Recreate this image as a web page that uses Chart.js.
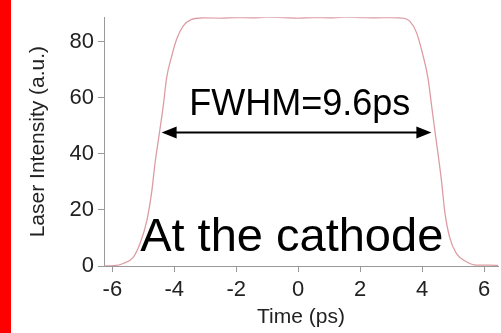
<!DOCTYPE html>
<html lang="en">
<head>
    <meta charset="UTF-8">
    <title>Laser Intensity - At the cathode</title>
    <script src="https://cdn.jsdelivr.net/npm/chart.js"></script>
    <style>
        html, body { margin: 0; padding: 0; background: #fff; }
        .wrap { position: relative; width: 501px; height: 333px; overflow: hidden; }
        .red-bar { position: absolute; left: 0; top: 0; width: 11px; height: 333px; background: #ff0000; z-index: 2; }
        canvas { position: absolute; left: 0; top: 0; }
    </style>
</head>
<body>
<div class="wrap">
    <div class="red-bar"></div>
    <canvas id="pulseChart" width="501" height="333"></canvas>
</div>

<script>
    // pulse profile (time in ps, intensity in a.u.)
    const timePs = [-6.27, -5.97, -5.65, -5.32, -5.11, -4.89, -4.73, -4.62, -4.48, -4.35, -4.25, -4.08, -3.92, -3.71, -3.44, -3.06,
        -2.5, -2.0, -1.5, -1.0, -0.5, 0, 0.5, 1.0, 1.5, 2.0, 2.5, 3.0, 3.39,
        3.60, 3.82, 4.03, 4.19, 4.30, 4.41, 4.52, 4.63, 4.73, 4.89, 5.11, 5.43, 5.75, 6.18, 6.45];
    const intensity = [0, 0.1, 0.9, 3.2, 7.9, 16, 26.4, 36.9, 47.5, 57.7, 67, 75, 81, 85.6, 87.9, 88.5,
        88.4, 88.6, 88.5, 88.7, 88.6, 88.4, 88.6, 88.5, 88.7, 88.6, 88.5, 88.6, 88.4,
        87.3, 83.2, 75, 67, 57.7, 48.4, 39.5, 29.9, 19.5, 10.2, 4.4, 1.5, 0.3, 0.3, 0.2];

    const xTicks = [-6, -4, -2, 0, 2, 4, 6];
    const yTicks = [0, 20, 40, 60, 80];

    // FWHM marker and text labels
    const fwhmArrow = [-4.41, 4.30];
    const fwhmLevel = 47.6;
    const fwhmText = 'FWHM=9.6ps';
    const fwhmTextPos = [0.05, 54];
    const placeText = 'At the cathode';
    const placeTextPos = [-0.21, 5.2];

    const FONT = "'Liberation Sans', Arial, sans-serif";

    const annotations = {
        id: 'annotations',
        afterDatasetsDraw(chart) {
            const { ctx, scales: { x, y } } = chart;
            const x0 = x.getPixelForValue(fwhmArrow[0]);
            const x1 = x.getPixelForValue(fwhmArrow[1]);
            const yy = y.getPixelForValue(fwhmLevel);
            const headLen = 15, headHalf = 6;

            ctx.save();
            ctx.strokeStyle = '#000';
            ctx.fillStyle = '#000';
            ctx.lineWidth = 2;
            ctx.beginPath();
            ctx.moveTo(x0 + headLen - 1, yy);
            ctx.lineTo(x1 - headLen + 1, yy);
            ctx.stroke();

            ctx.beginPath();
            ctx.moveTo(x0, yy);
            ctx.lineTo(x0 + headLen, yy - headHalf);
            ctx.lineTo(x0 + headLen, yy + headHalf);
            ctx.closePath();
            ctx.fill();

            ctx.beginPath();
            ctx.moveTo(x1, yy);
            ctx.lineTo(x1 - headLen, yy - headHalf);
            ctx.lineTo(x1 - headLen, yy + headHalf);
            ctx.closePath();
            ctx.fill();

            ctx.textAlign = 'center';
            ctx.textBaseline = 'alphabetic';
            ctx.font = '36px ' + FONT;
            ctx.fillText(fwhmText, x.getPixelForValue(fwhmTextPos[0]), y.getPixelForValue(fwhmTextPos[1]));
            ctx.font = '47px ' + FONT;
            ctx.fillText(placeText, x.getPixelForValue(placeTextPos[0]), y.getPixelForValue(placeTextPos[1]));
            ctx.restore();
        }
    };

    const axisColor = '#999';

    new Chart(document.getElementById('pulseChart'), {
        type: 'line',
        data: {
            datasets: [{
                data: timePs.map((t, i) => ({ x: t, y: intensity[i] })),
                borderColor: '#dd9ca4',
                borderWidth: 1.3,
                pointRadius: 0,
                fill: false,
                cubicInterpolationMode: 'monotone'
            }]
        },
        options: {
            responsive: false,
            animation: false,
            devicePixelRatio: 1,
            layout: { padding: { top: 10, right: 3, left: 0, bottom: 0 } },
            plugins: {
                legend: { display: false },
                tooltip: { enabled: false }
            },
            scales: {
                x: {
                    type: 'linear',
                    min: -6.27,
                    max: 6.45,
                    afterBuildTicks: s => { s.ticks = xTicks.map(v => ({ value: v })); },
                    afterFit: s => { s.height = 67; },
                    grid: { drawOnChartArea: false, drawTicks: true, tickLength: 6, color: axisColor },
                    border: { color: axisColor, width: 1 },
                    ticks: { font: { family: FONT, size: 22 }, color: '#222', padding: 5, maxRotation: 0 },
                    title: {
                        display: true,
                        text: 'Time (ps)',
                        font: { family: FONT, size: 21 },
                        color: '#222',
                        padding: { top: 0, bottom: 3 }
                    }
                },
                y: {
                    min: 0,
                    max: 88.7,
                    afterBuildTicks: s => { s.ticks = yTicks.map(v => ({ value: v })); },
                    afterFit: s => { s.width = 104; },
                    grid: { drawOnChartArea: false, drawTicks: true, tickLength: 6, color: axisColor },
                    border: { color: axisColor, width: 1 },
                    ticks: { font: { family: FONT, size: 22 }, color: '#222', padding: 4 },
                    title: {
                        display: true,
                        text: 'Laser Intensity (a.u.)',
                        font: { family: FONT, size: 21 },
                        color: '#222',
                        padding: { top: 26, bottom: 0 }
                    }
                }
            }
        },
        plugins: [annotations]
    });
</script>
</body>
</html>
